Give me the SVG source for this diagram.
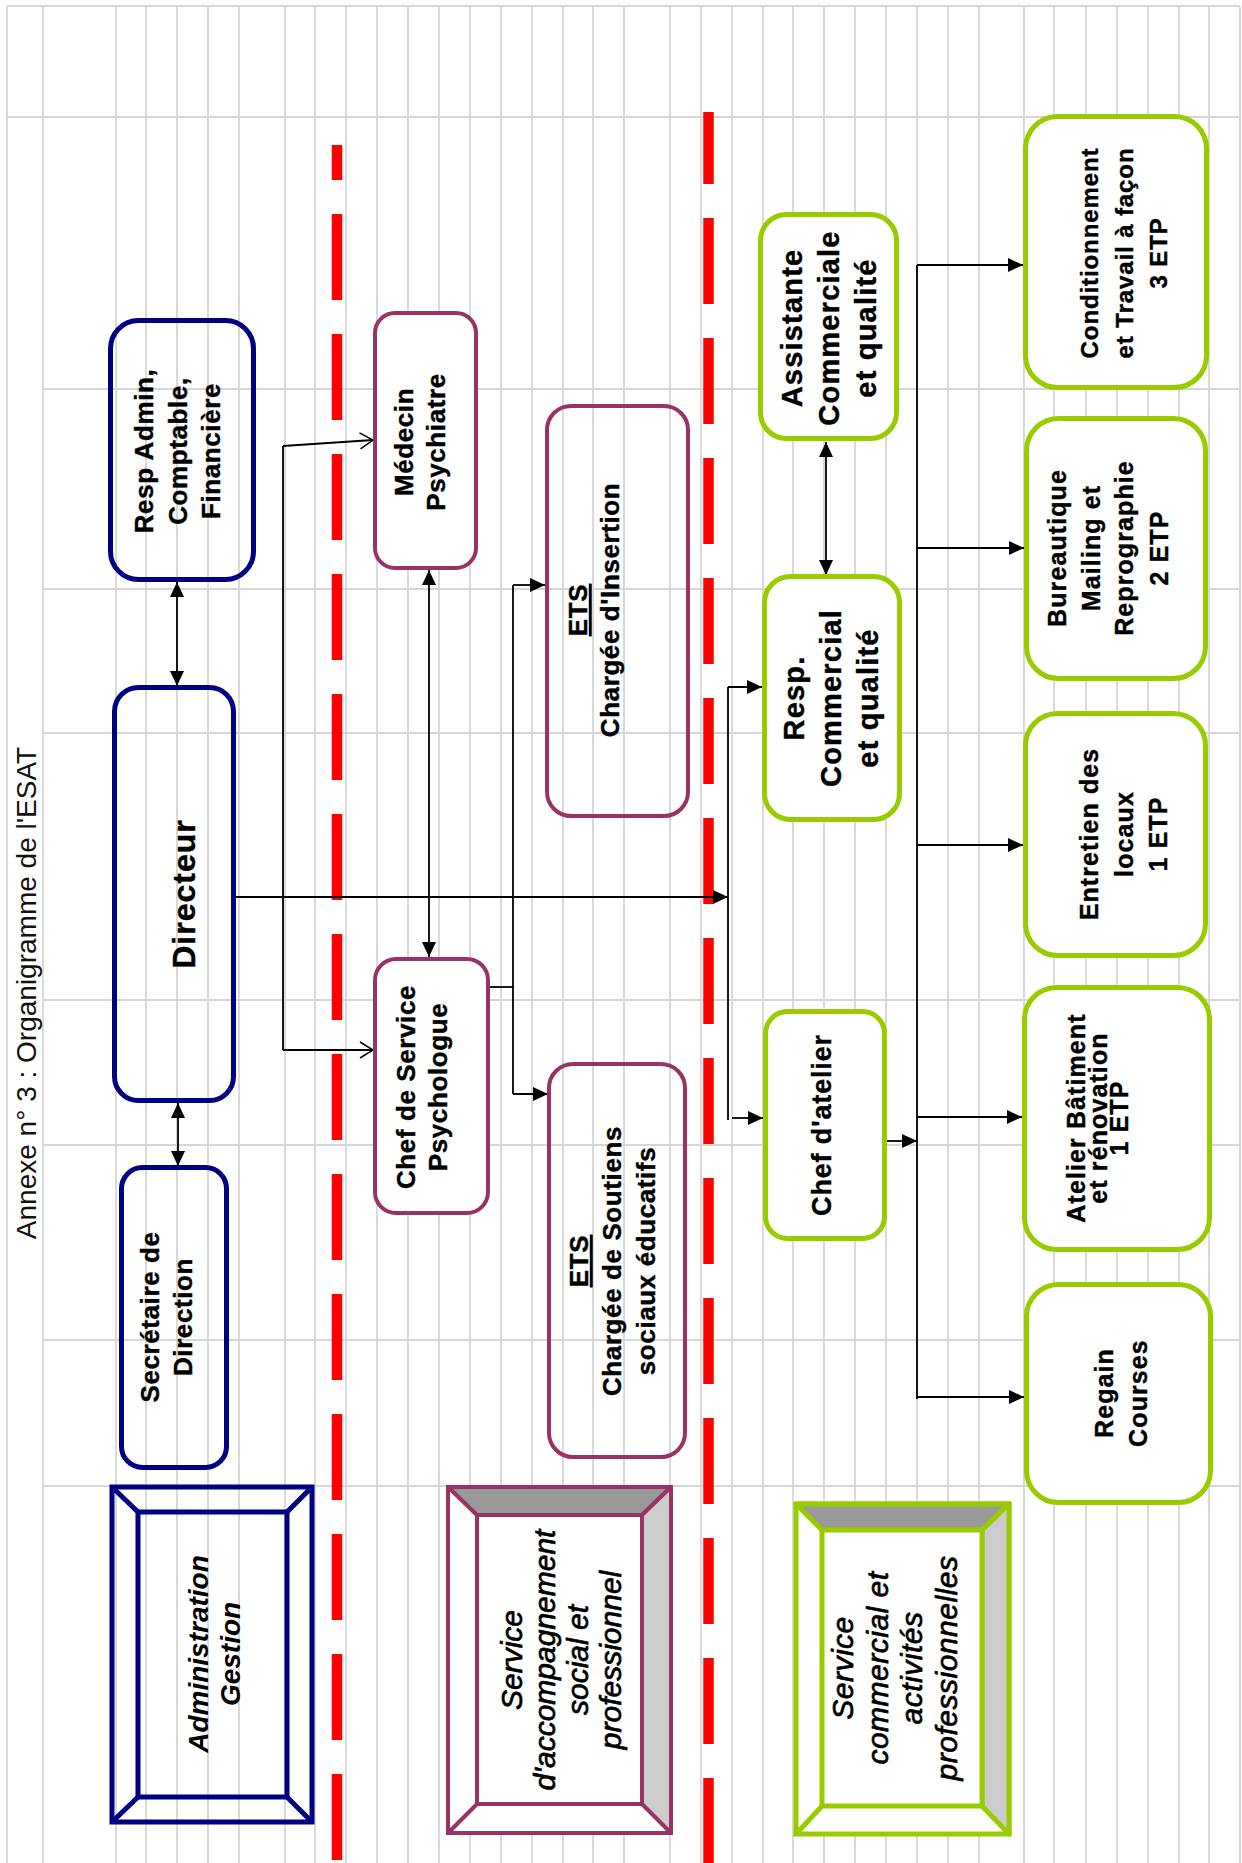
<svg xmlns="http://www.w3.org/2000/svg" width="1242" height="1863" viewBox="0 0 1242 1863">
<style>
.gr{stroke:#d6d6d6;stroke-width:1.8;fill:none}
.red{stroke:#ff0000;stroke-width:10.5;stroke-dasharray:86 34;fill:none}
.nb{fill:none;stroke:#000080;stroke-width:5}
.pb{fill:#fff;stroke:#993366;stroke-width:4}
.pt{fill:none;stroke:#993366;stroke-width:4}
.gb{fill:#fff;stroke:#99cc00;stroke-width:5}
.c{stroke:#000;stroke-width:1.8;fill:none}
.t{font-family:"Liberation Sans",Arial,sans-serif;font-weight:bold;text-anchor:middle;fill:#000;stroke:#000;stroke-width:0.4}
.i{font-family:"Liberation Sans",Arial,sans-serif;font-style:italic;text-anchor:middle;fill:#000}
.ih{stroke:#000;stroke-width:0.7}
.u{text-decoration:underline}
</style>
<defs>
<marker id="ah" viewBox="0 0 15 14" refX="15" refY="7" markerWidth="15" markerHeight="14" markerUnits="userSpaceOnUse" orient="auto-start-reverse"><path d="M0,0 L15,7 L0,14 z" fill="#000"/></marker>
<marker id="oh" viewBox="0 0 15 18" refX="14" refY="9" markerWidth="15" markerHeight="18" markerUnits="userSpaceOnUse" orient="auto"><path d="M1,1 L14,9 L1,17" fill="none" stroke="#000" stroke-width="1.5"/></marker>
</defs>
<rect width="1242" height="1863" fill="#fff"/>
<g id="grid" class="gr">
<path d="M7,6 H1240 M7,117 H1240 M43,389 H1240 M43,589 H1240 M43,733 H1240 M43,1000 H1240 M43,1145 H1240 M43,1340 H1240 M43,1486 H1240"/>
<path d="M7,6 V1863 M43,6 V1863 M116,6 V1863 M146,6 V1863 M177,6 V1863 M208,6 V1863 M239,6 V1863 M285,6 V1863 M315,6 V1863 M346,6 V1863 M377,6 V1863 M408,6 V1863 M439,6 V1863 M470,6 V1863 M501,6 V1863 M532,6 V1863 M563,6 V1863 M593,6 V1863 M624,6 V1863 M670,6 V1863 M701,6 V1863 M732,6 V1863 M763,6 V1863 M793,6 V1863 M824,6 V1863 M855,6 V1863 M886,6 V1863 M917,6 V1863 M948,6 V1863 M979,6 V1863 M1024,6 V1863 M1054,6 V1863 M1086,6 V1863 M1117,6 V1863 M1148,6 V1863 M1179,6 V1863 M1209,6 V1863 M1240,6 V1863"/>
</g>
<text id="title" font-family="Liberation Sans, Arial, sans-serif" font-size="28" text-anchor="middle" fill="#111" transform="translate(36,993) rotate(-90)">Annexe n° 3 : Organigramme de l'ESAT</text>
<g id="separators">
<line class="red" x1="337" y1="145" x2="337" y2="1863" stroke-dashoffset="51"/>
<line class="red" x1="708.5" y1="112" x2="708.5" y2="1863" stroke-dashoffset="14"/>
</g>
<g id="legend-admin">
<rect class="nb" x="112" y="1487" width="200" height="335"/>
<rect class="nb" x="138" y="1512" width="149" height="285"/>
<path class="nb" d="M112,1487 L138,1512 M312,1487 L287,1512 M112,1822 L138,1797 M312,1822 L287,1797"/>
<text class="i" font-weight="bold" font-size="28" transform="translate(208,1654) rotate(-90)"><tspan x="0" y="0">Administration</tspan><tspan x="0" dy="32">Gestion</tspan></text>
</g>
<g id="legend-accompagnement">
<rect x="448" y="1487" width="223" height="346" fill="#fff" stroke="#993366" stroke-width="4"/>
<polygon points="448,1487 671,1487 642,1515 477,1515" fill="#999" stroke="#993366" stroke-width="4" stroke-linejoin="round"/>
<polygon points="671,1487 671,1833 642,1804 642,1515" fill="#ccc" stroke="#993366" stroke-width="4" stroke-linejoin="round"/>
<rect x="477" y="1515" width="165" height="289" fill="#fff" stroke="#993366" stroke-width="4"/>
<path d="M448,1833 L477,1804" stroke="#993366" stroke-width="4"/>
<text class="i ih" font-size="30" transform="translate(522,1660) rotate(-90)"><tspan x="0" y="0">Service</tspan><tspan x="0" dy="33">d'accompagnement</tspan><tspan x="0" dy="33">social et</tspan><tspan x="0" dy="33">professionnel</tspan></text>
</g>
<g id="legend-commercial">
<rect x="796" y="1504" width="213" height="330" fill="#fff" stroke="#99cc00" stroke-width="5"/>
<polygon points="796,1504 1009,1504 982,1530 822,1530" fill="#999" stroke="#99cc00" stroke-width="5" stroke-linejoin="round"/>
<polygon points="1009,1504 1009,1834 982,1806 982,1530" fill="#ccc" stroke="#99cc00" stroke-width="5" stroke-linejoin="round"/>
<rect x="822" y="1530" width="160" height="276" fill="#fff" stroke="#99cc00" stroke-width="5"/>
<path d="M796,1834 L822,1806" stroke="#99cc00" stroke-width="5"/>
<text class="i ih" font-size="30" letter-spacing="0.5" transform="translate(853,1668) rotate(-90)"><tspan x="0" y="0">Service</tspan><tspan x="0" dy="34.5">commercial et</tspan><tspan x="0" dy="34.5">activités</tspan><tspan x="0" dy="34.5">professionnelles</tspan></text>
</g>
<g id="connectors" class="c">
<path d="M177,582 V686" marker-start="url(#ah)" marker-end="url(#ah)"/>
<path d="M178,1103 V1166" marker-start="url(#ah)" marker-end="url(#ah)"/>
<path d="M236,897 H728" marker-end="url(#ah)"/>
<path d="M283,446 V1050"/>
<path d="M283,446 L373,440" marker-end="url(#oh)"/>
<path d="M283,1050 H373" marker-end="url(#oh)"/>
<path d="M429,570 V957" marker-start="url(#ah)" marker-end="url(#ah)"/>
<path d="M490,987 H513"/>
<path d="M513,585 V1094"/>
<path d="M513,585 H545" marker-end="url(#ah)"/>
<path d="M513,1094 H548" marker-end="url(#ah)"/>
<path d="M728,687 V1120"/>
<path d="M728,687 H762" marker-end="url(#ah)"/>
<path d="M732,1118 H763" marker-end="url(#ah)"/>
<path d="M826,442 V575" marker-start="url(#ah)" marker-end="url(#ah)"/>
<path d="M887,1141 H917" marker-end="url(#ah)"/>
<path d="M917,265 V1399"/>
<path d="M917,265 H1023" marker-end="url(#ah)"/>
<path d="M917,548 H1024" marker-end="url(#ah)"/>
<path d="M917,845 H1023" marker-end="url(#ah)"/>
<path d="M917,1117 H1022" marker-end="url(#ah)"/>
<path d="M917,1397 H1024" marker-end="url(#ah)"/>
</g>
<g id="resp-admin">
<rect class="nb" x="110.5" y="320.5" width="143" height="259" rx="28"/>
<text class="t" font-size="26" letter-spacing="0.6" transform="translate(153,451) rotate(-90)"><tspan x="0" y="0">Resp Admin,</tspan><tspan x="0" dy="33.5">Comptable,</tspan><tspan x="0" dy="33.5">Financière</tspan></text>
</g>
<g id="directeur">
<rect class="nb" x="114.5" y="687.5" width="119" height="413" rx="24"/>
<text class="t" font-size="32" letter-spacing="1" transform="translate(195,894) rotate(-90)">Directeur</text>
</g>
<g id="secretaire">
<rect class="nb" x="121.5" y="1167.5" width="105" height="300" rx="21"/>
<text class="t" font-size="26" letter-spacing="0.6" transform="translate(159,1317) rotate(-90)"><tspan x="0" y="0">Secrétaire de</tspan><tspan x="0" dy="33">Direction</tspan></text>
</g>
<g id="medecin">
<rect class="pb" x="375" y="313" width="101" height="255" rx="20"/>
<text class="t" font-size="26" letter-spacing="0.6" transform="translate(413,442) rotate(-90)"><tspan x="0" y="0">Médecin</tspan><tspan x="0" dy="32">Psychiatre</tspan></text>
</g>
<g id="chef-service">
<rect class="pb" x="375" y="959" width="113" height="254" rx="21"/>
<text class="t" font-size="26" letter-spacing="0.6" transform="translate(415,1087) rotate(-90)"><tspan x="0" y="0">Chef de Service</tspan><tspan x="0" dy="32">Psychologue</tspan></text>
</g>
<g id="ets-insertion">
<rect class="pt" x="547" y="406" width="141" height="410" rx="24"/>
<text class="t" font-size="26" letter-spacing="0.6" transform="translate(587,610) rotate(-90)"><tspan x="0" y="0" class="u">ETS</tspan><tspan x="0" dy="32">Chargée d'Insertion</tspan></text>
</g>
<g id="ets-soutiens">
<rect class="pt" x="549" y="1064" width="136" height="393" rx="24"/>
<text class="t" font-size="26" letter-spacing="0.6" transform="translate(588,1261) rotate(-90)"><tspan x="0" y="0" class="u">ETS</tspan><tspan x="0" dy="33">Chargée de Soutiens</tspan><tspan x="0" dy="34">sociaux éducatifs</tspan></text>
</g>
<g id="assistante">
<rect class="gb" x="760.5" y="214.5" width="136" height="224" rx="26"/>
<text class="t" font-size="29" letter-spacing="1.2" transform="translate(802,328) rotate(-90)"><tspan x="0" y="0">Assistante</tspan><tspan x="0" dy="37">Commerciale</tspan><tspan x="0" dy="37">et qualité</tspan></text>
</g>
<g id="resp-commercial">
<rect class="gb" x="764.5" y="576.5" width="135" height="243" rx="26"/>
<text class="t" font-size="29" letter-spacing="1.2" transform="translate(804,698) rotate(-90)"><tspan x="0" y="0">Resp.</tspan><tspan x="0" dy="37">Commercial</tspan><tspan x="0" dy="37">et qualité</tspan></text>
</g>
<g id="chef-atelier">
<rect class="gb" x="765.5" y="1011.5" width="119" height="227" rx="22"/>
<text class="t" font-size="27" letter-spacing="0.85" transform="translate(831,1125) rotate(-90)">Chef d'atelier</text>
</g>
<g id="conditionnement">
<rect class="gb" x="1025.5" y="116.5" width="181" height="271" rx="32"/>
<text class="t" font-size="24" letter-spacing="0.9" transform="translate(1098,253) rotate(-90)"><tspan x="0" y="0">Conditionnement</tspan><tspan x="0" dy="35">et Travail à façon</tspan><tspan x="0" dy="34">3 ETP</tspan></text>
</g>
<g id="bureautique">
<rect class="gb" x="1026.5" y="418.5" width="179" height="260" rx="32"/>
<text class="t" font-size="25" letter-spacing="1.1" transform="translate(1066,548) rotate(-90)"><tspan x="0" y="0">Bureautique</tspan><tspan x="0" dy="34">Mailing et</tspan><tspan x="0" dy="33">Reprographie</tspan><tspan x="0" dy="35">2 ETP</tspan></text>
</g>
<g id="entretien">
<rect class="gb" x="1025.5" y="713.5" width="180" height="242" rx="32"/>
<text class="t" font-size="25" letter-spacing="1.1" transform="translate(1098,834) rotate(-90)"><tspan x="0" y="0">Entretien des</tspan><tspan x="0" dy="35">locaux</tspan><tspan x="0" dy="34">1 ETP</tspan></text>
</g>
<g id="atelier-batiment">
<rect class="gb" x="1024.5" y="987.5" width="185" height="262" rx="32"/>
<text class="t" font-size="25" letter-spacing="1.1" transform="translate(1085,1118) rotate(-90)"><tspan x="0" y="0">Atelier Bâtiment</tspan><tspan x="0" dy="22">et rénovation</tspan><tspan x="0" dy="21">1 ETP</tspan></text>
</g>
<g id="regain">
<rect class="gb" x="1026.5" y="1284.5" width="184" height="218" rx="32"/>
<text class="t" font-size="25" letter-spacing="1.1" transform="translate(1113,1393) rotate(-90)"><tspan x="0" y="0">Regain</tspan><tspan x="0" dy="34">Courses</tspan></text>
</g>
</svg>
